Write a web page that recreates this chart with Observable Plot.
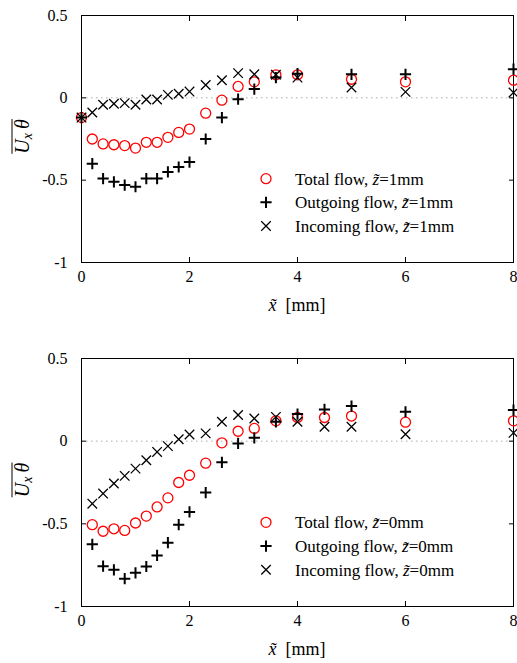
<!DOCTYPE html>
<html><head><meta charset="utf-8">
<script src="https://cdn.jsdelivr.net/npm/d3@7"></script>
<script src="https://cdn.jsdelivr.net/npm/@observablehq/plot@0.6"></script>
<style>
body{margin:0;background:#fff;}
#chart{width:517px;}
#chart svg{display:block;}
#chart svg text{font-family:'Liberation Serif','DejaVu Serif',serif !important;}
</style>
</head><body><div id="chart"></div>
<script>
// ---- data ----
const xTop = [0, 0.2, 0.4, 0.6, 0.8, 1.0, 1.2, 1.4, 1.6, 1.8, 2.0, 2.3, 2.6, 2.9, 3.2, 3.6, 4.0, 5.0, 6.0, 8.0];
const totalTop = [-0.12, -0.25, -0.28, -0.285, -0.29, -0.305, -0.27, -0.27, -0.24, -0.21, -0.19, -0.093, -0.014, 0.069, 0.097, 0.14, 0.14, 0.113, 0.097, 0.107];
const outTop = [-0.12, -0.40, -0.49, -0.51, -0.53, -0.54, -0.49, -0.49, -0.45, -0.42, -0.39, -0.25, -0.12, -0.008, 0.053, 0.123, 0.147, 0.143, 0.143, 0.174];
const inTop = [-0.12, -0.089, -0.042, -0.036, -0.032, -0.042, -0.01, -0.01, 0.018, 0.025, 0.038, 0.078, 0.107, 0.15, 0.143, 0.14, 0.123, 0.063, 0.036, 0.032];

const xBot = [0.2, 0.4, 0.6, 0.8, 1.0, 1.2, 1.4, 1.6, 1.8, 2.0, 2.3, 2.6, 2.9, 3.2, 3.6, 4.0, 4.5, 5.0, 6.0, 8.0];
const totalBot = [-0.505, -0.545, -0.53, -0.54, -0.495, -0.453, -0.398, -0.343, -0.25, -0.206, -0.133, -0.01, 0.06, 0.077, 0.123, 0.143, 0.143, 0.152, 0.115, 0.123];
const outBot = [-0.624, -0.756, -0.778, -0.832, -0.796, -0.758, -0.691, -0.614, -0.505, -0.428, -0.311, -0.128, -0.014, 0.02, 0.117, 0.164, 0.192, 0.212, 0.178, 0.188];
const inBot = [-0.378, -0.317, -0.256, -0.21, -0.166, -0.115, -0.065, -0.03, 0.012, 0.04, 0.047, 0.117, 0.158, 0.137, 0.147, 0.117, 0.087, 0.087, 0.042, 0.05];

const xTicks = [0, 2, 4, 6, 8];
const yTicks = [-1, -0.5, 0, 0.5];
const legendTop = ["Total flow, ", "Outgoing flow, ", "Incoming flow, "];
const zTop = "1mm";
const zBot = "0mm";

const FONT = "'Liberation Serif', 'DejaVu Serif', serif";

function table(xs, ys) { return xs.map((x, i) => ({x, y: ys[i]})); }
function fmtY(d) { return d === 0 ? "0" : String(d); }

function panel(xs, tot, out, inc, zlab, mt, mb, H) {
  const chart = Plot.plot({
    width: 517, height: H,
    marginLeft: 81, marginRight: 4, marginTop: mt, marginBottom: mb,
    style: {fontFamily: FONT, fontSize: "16px", color: "black", background: "white"},
    x: {domain: [0, 8], label: null},
    y: {domain: [-1, 0.5], label: null},
    marks: [
      Plot.ruleY([0], {stroke: "#aaa", strokeDasharray: "1.5,3.5", strokeWidth: 1}),
      Plot.frame({stroke: "black", strokeWidth: 1}),
      Plot.axisX(xTicks, {anchor: "bottom", tickSize: -5, tickPadding: 13, tickFormat: d => String(d), fontSize: 16}),
      Plot.axisX(xTicks, {anchor: "top", tickSize: -5, tickFormat: () => ""}),
      Plot.axisY(yTicks, {anchor: "left", tickSize: -5, tickPadding: 19, tickFormat: fmtY, fontSize: 16}),
      Plot.axisY(yTicks, {anchor: "right", tickSize: -5, tickFormat: () => ""}),
      Plot.dot(table(xs, tot), {x: "x", y: "y", symbol: "circle", r: 5, stroke: "#ff0000", fill: "none", strokeWidth: 1.3}),
      Plot.dot(table(xs, out), {x: "x", y: "y", symbol: "plus", r: 3.7, stroke: "black", strokeWidth: 2}),
      Plot.dot(table(xs, inc), {x: "x", y: "y", symbol: "times", r: 4.4, stroke: "black", strokeWidth: 1.3})
    ]
  });
  document.getElementById("chart").appendChild(chart);
  const svg = d3.select(chart);
  const sx = chart.scale("x"), sy = chart.scale("y");
  const x0 = sx.apply(0), x8 = sx.apply(8), yb = sy.apply(-1), yt = sy.apply(0.5);

  // x label: x̃ [mm]
  const xl = svg.append("text")
    .attr("x", (x0 + x8) / 2).attr("y", yb + 49)
    .attr("text-anchor", "middle")
    .style("font-size", "18px").attr("fill", "black");
  xl.append("tspan").style("font-style", "italic").text("x\u0303");
  xl.append("tspan").text("  [mm]");

  // y label: overline(U_x θ), rotated
  const cy = (yb + yt) / 2 - 2;
  const g = svg.append("g").attr("transform", `translate(29,${cy}) rotate(-90)`);
  const yl = g.append("text").attr("text-anchor", "middle").attr("y", 0)
    .style("font-size", "20px").attr("fill", "black");
  yl.append("tspan").style("font-style", "italic").text("U");
  yl.append("tspan").style("font-style", "italic").style("font-size", "14px").attr("dy", 3).text("x");
  yl.append("tspan").style("font-style", "italic").attr("dy", -3).attr("dx", 4).text("θ");
  const bb = yl.node().getBBox();
  g.append("line").attr("x1", bb.x).attr("x2", bb.x + bb.width)
    .attr("y1", -17).attr("y2", -17).attr("stroke", "black").attr("stroke-width", 1);

  // legend
  const syms = [
    {type: d3.symbolCircle, r: 5, stroke: "#ff0000", sw: 1.3},
    {type: d3.symbolPlus, r: 3.7, stroke: "black", sw: 2},
    {type: d3.symbolTimes, r: 4.4, stroke: "black", sw: 1.3}
  ];
  const ly0 = sy.apply(-0.5) - 1;
  legendTop.forEach((lab, i) => {
    const yy = ly0 + i * 23.7;
    const s = syms[i];
    svg.append("path")
      .attr("d", d3.symbol(s.type, Math.PI * s.r * s.r)())
      .attr("transform", `translate(266,${yy})`)
      .attr("fill", "none").attr("stroke", s.stroke).attr("stroke-width", s.sw);
    const t = svg.append("text").attr("x", 295).attr("y", yy + 6)
      .attr("text-anchor", "start")
      .style("font-size", "17px").attr("fill", "black");
    t.append("tspan").text(lab);
    t.append("tspan").style("font-style", "italic").text("z\u0303");
    t.append("tspan").text("=" + zlab);
  });
  svg.selectAll("text").attr("font-family", FONT).style("font-family", FONT);
}

panel(xTop, totalTop, outTop, inTop, zTop, 15, 69, 331);
panel(xBot, totalBot, outBot, inBot, zBot, 27, 57, 332);
</script>
</body></html>
